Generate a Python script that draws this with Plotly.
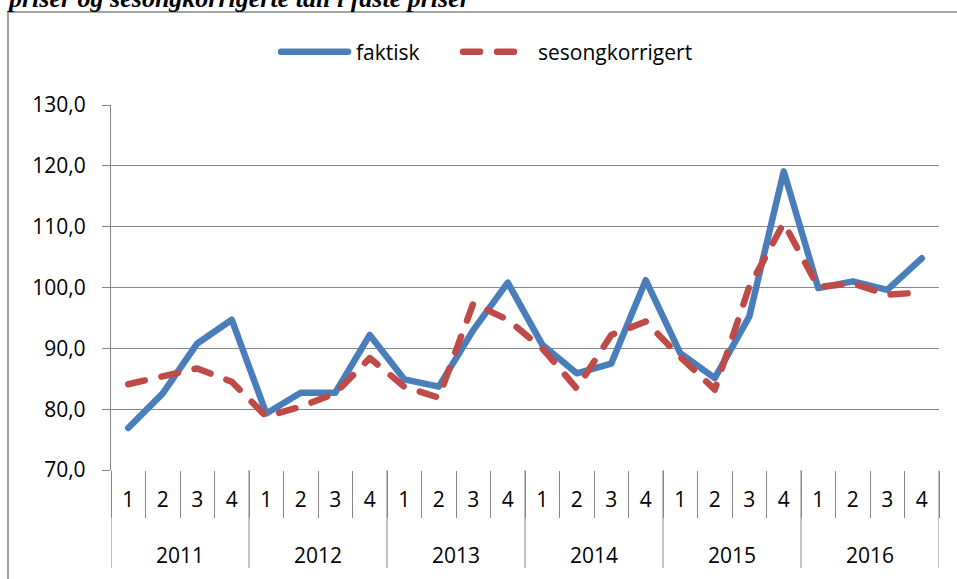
import plotly.graph_objects as go

years = ["2011", "2012", "2013", "2014", "2015", "2016"]
quarters = ["1", "2", "3", "4"]

faktisk = [76.9, 82.6, 90.8, 94.7,
           79.3, 82.7, 82.7, 92.2,
           84.9, 83.7, 93.0, 100.8,
           90.6, 85.9, 87.5, 101.2,
           89.2, 85.1, 95.2, 119.1,
           99.9, 101.0, 99.6, 104.8]
sesong = [84.1, 85.5, 86.7, 84.5,
          78.8, 80.4, 82.6, 88.4,
          83.7, 81.9, 97.4, 94.7,
          90.0, 83.4, 92.2, 94.4,
          88.6, 83.2, 100.1, 110.6,
          100.1, 100.7, 98.8, 99.2]

title_text = "priser og sesongkorrigerte tall i faste priser"

W, H = 957, 579
L, R, T, B = 111, 18, 105, 109
PW, PH = W - L - R, H - T - B

def px_x(p):
    return (p - L) / PW

def px_y(p):
    return (H - B - p) / PH

n = len(years) * len(quarters)
xs = list(range(n))
qlabels = [q for y in years for q in quarters]

GRID = "#878787"
FONT = "Open Sans"
FS = 21

fig = go.Figure()
fig.add_trace(go.Scatter(x=xs, y=faktisk, mode="lines", name="faktisk", legend="legend",
                         line=dict(color="#4A7EBB", width=6.5)))
fig.add_trace(go.Scatter(x=xs, y=sesong, mode="lines", name="sesongkorrigert", legend="legend2",
                         line=dict(color="#BE4B48", width=6.5, dash="17px,17px")))

shapes = []
for k in range(len(years) + 1):
    xv = k * len(quarters) - 0.5
    shapes.append(dict(type="line", xref="x", yref="paper", x0=xv, x1=xv,
                       y0=0, y1=px_y(568), line=dict(color=GRID, width=1)))
# outer chart border
shapes.append(dict(type="rect", xref="paper", yref="paper",
                   x0=px_x(8), x1=px_x(975), y0=px_y(600), y1=px_y(12),
                   line=dict(color=GRID, width=1.5), fillcolor="rgba(0,0,0,0)",
                   layer="below"))

annotations = []
for i, yr in enumerate(years):
    annotations.append(dict(text=yr, x=i * len(quarters) + 1.5, xref="x",
                            y=px_y(555), yref="paper", showarrow=False,
                            xanchor="center", yanchor="middle",
                            font=dict(family=FONT, size=FS, color="black")))
annotations.append(dict(text="<b><i>" + title_text + "</i></b>", x=px_x(5), xref="paper",
                        y=px_y(-2), yref="paper", showarrow=False,
                        xanchor="left", yanchor="middle",
                        font=dict(family="Liberation Serif", size=26, color="black")))

leg_common = dict(orientation="h", yanchor="middle", y=px_y(52), xanchor="left",
                  itemwidth=73, font=dict(family=FONT, size=FS, color="black"),
                  bgcolor="rgba(0,0,0,0)")

fig.update_layout(
    width=W, height=H,
    margin=dict(l=L, r=R, t=T, b=B, pad=0),
    paper_bgcolor="white", plot_bgcolor="white",
    separators=", ",
    font=dict(family=FONT, size=FS, color="black"),
    showlegend=True,
    legend=dict(x=px_x(273), **leg_common),
    legend2=dict(x=px_x(455), **leg_common),
    shapes=shapes,
    annotations=annotations,
    xaxis=dict(range=[-0.5, n - 0.5], tickmode="array", tickvals=xs, ticktext=qlabels,
               ticks="", showgrid=False, zeroline=False, showline=False,
               ticklabelstandoff=15,
               minor=dict(tickmode="array", tickvals=[k - 0.5 for k in range(n + 1)],
                          ticks="outside", ticklen=47, tickcolor=GRID, tickwidth=1,
                          showgrid=False),
               tickfont=dict(family=FONT, size=FS, color="black")),
    yaxis=dict(range=[70, 130], dtick=10, tick0=70, tickformat=".1f",
               showgrid=True, gridcolor=GRID, gridwidth=1.3, zeroline=False,
               showline=True, linecolor=GRID, linewidth=1.3,
               ticks="outside", ticklen=8, tickcolor=GRID, tickwidth=1.3,
               ticklabelstandoff=12,
               tickfont=dict(family=FONT, size=FS, color="black")),
)

post = ("document.body.style.margin='0';"
        "document.querySelectorAll('.legendlines .js-line')"
        ".forEach(function(p){p.setAttribute('d','M8,0h67');});"
        "document.querySelectorAll('.scatterlayer .js-line, .legendlines .js-line')"
        ".forEach(function(p){p.style.strokeLinecap='round';p.style.strokeLinejoin='round';});")

fig.write_html("out.html", post_script=post, config={"displayModeBar": False})
